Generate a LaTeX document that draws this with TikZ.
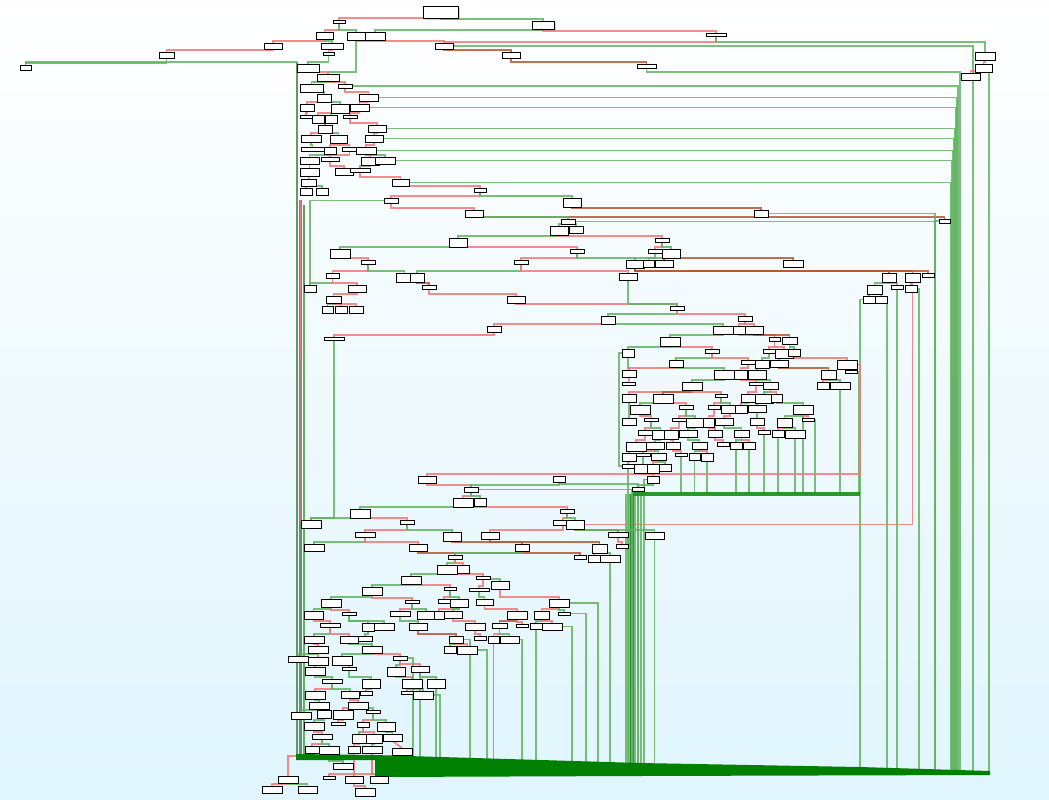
\documentclass[tikz,border=0pt]{standalone}
\usetikzlibrary{calc,shadows}
\definecolor{bgc}{RGB}{224,245,253}
\definecolor{ered}{RGB}{245,120,120}
\definecolor{egreen}{RGB}{100,180,100}
\definecolor{ebrown}{RGB}{184,88,52}
\definecolor{bandc}{RGB}{0,128,0}
\pgfdeclarelayer{bg}\pgfdeclarelayer{edges}\pgfsetlayers{bg,edges,main}
\tikzset{
 bx/.style={draw=black,line width=0.9pt,fill=white,inner sep=0pt,outer sep=0pt},
 redge/.style={draw=ered,line width=1.8pt,opacity=0.85},
 gedge/.style={draw=egreen,line width=1.8pt,opacity=0.85},
 bedge/.style={draw=ebrown,line width=1.8pt,opacity=0.85},
 trunk/.style={draw=egreen!75!black,line width=2.4pt,opacity=0.85},
 gthick/.style={draw=bandc!75!egreen,line width=3.2pt,opacity=0.9},
}
\newcommand\Bx[5]{\node[bx,minimum width={(#4-#2)*1pt},minimum height={(#5-#3)*1pt}] (#1) at ({(#2+#4)/2},{(#3+#5)/2}) {};}
\newcommand\Ed[3]{\draw[#1] (#2.south) |- ([yshift=2pt]#3.north) -- (#3.north);}
\newcommand\Ea[3]{\draw[#1] (#2.south) -- ++(0,3) -| (#3.north);}
\newcommand\Er[2]{\Ed{redge}{#1}{#2}}
\newcommand\Eg[2]{\Ed{gedge}{#1}{#2}}
\newcommand\Eb[2]{\Ed{bedge}{#1}{#2}}
\newcommand\Bk[2]{\draw[gedge] (#1.east) -| (#2);}
\newcommand\Bd[1]{\draw[gedge] (#1.south) -- (#1.south |- bandline);}
\newcommand\Bh[1]{\draw[gedge] (#1.south) -- (#1.south |- hband);}
\begin{document}
\begin{tikzpicture}[x=1pt,y=-1pt]
\useasboundingbox (0,0) rectangle (1049,800);
\begin{pgfonlayer}{bg}
\shade[top color=white,bottom color=bgc] (0,0) rectangle (1049,800);
\end{pgfonlayer}
% coordinates
\coordinate (bandline) at (0,772);
\coordinate (hband) at (0,494);
\foreach \x in {413,440,470,487,522,572,586,598,632,644,860,887,919,935,951,952,953,954,955,956,957,958,960,973,989} \coordinate (v\x) at (\x,772);
\foreach \x in {815,859} \coordinate (h\x) at (\x,494);
\coordinate (k1) at (297,62); \coordinate (k2) at (297,758);
\coordinate (k3) at (300.5,200); \coordinate (k4) at (300.5,758);
\coordinate (k5) at (304,205); \coordinate (k6) at (304,758);
\coordinate (ha) at (632,494); \coordinate (hb) at (860,494); \coordinate (va) at (632,772);
\coordinate (la) at (296,757); \coordinate (lb) at (376,757);
% top boxes
\node[bx,minimum width=35pt,minimum height=12pt,drop shadow={shadow xshift=2pt,shadow yshift=-2pt,opacity=0.35}] (t0) at (440.5,12) {};
\Bx{t1}{333}{20}{345}{23}
\node[bx,minimum width=22pt,minimum height=8pt,drop shadow={shadow xshift=2pt,shadow yshift=-2pt,opacity=0.35}] (t2) at (543,25) {};
\Bx{t3}{316}{32}{333}{39}
\Bx{t4}{347}{32}{365}{40}
\Bx{t5}{365}{32}{385}{40}
\Bx{t6}{264}{43}{282}{49}
\Bx{t7}{321}{43}{343}{49}
\Bx{t8}{323}{52}{334}{55}
\Bx{t9}{435}{43}{453}{49}
\Bx{t10}{502}{52}{520}{58}
\Bx{t11}{706}{33}{726}{36}
\Bx{t12}{159}{52}{174}{58}
\Bx{t13}{20}{65}{31}{70}
\Bx{t14}{637}{64}{656}{68}
\Bx{t15}{975}{52}{995}{60}
\Bx{t16}{975}{64}{992}{72}
\Bx{t17}{961}{73}{980}{80}
% column
\Bx{c1}{297}{64}{319}{72}
\Bx{c2}{317}{74}{339}{81}
\Bx{c3}{300}{84}{323}{92}
\Bx{c4}{338}{84}{352}{88}
\Bx{c5}{317}{94}{331}{102}
\Bx{c6}{359}{94}{378}{101}
\Bx{c7}{300}{104}{314}{111}
\Bx{c8}{331}{104}{349}{113}
\Bx{c9}{350}{104}{369}{111}
\Bx{c10}{300}{115}{312}{118}
\Bx{c11}{312}{115}{324}{123}
\Bx{c12}{325}{115}{337}{123}
\Bx{c13}{343}{115}{357}{118}
\Bx{c14}{318}{125}{332}{133}
\Bx{c15}{368}{125}{386}{132}
\Bx{c16}{301}{135}{321}{142}
\Bx{c17}{330}{135}{347}{143}
\Bx{c18}{365}{135}{383}{142}
\Bx{c19}{301}{147}{324}{151}
\Bx{c20}{324}{147}{336}{154}
\Bx{c21}{342}{147}{357}{151}
\Bx{c22}{356}{147}{376}{154}
\Bx{c23}{300}{157}{319}{164}
\Bx{c24}{321}{157}{339}{161}
\Bx{c25}{361}{157}{379}{165}
\Bx{c26}{375}{157}{395}{164}
\Bx{c27}{300}{168}{319}{176}
\Bx{c28}{335}{168}{353}{175}
\Bx{c29}{350}{168}{370}{172}
\Bx{c30}{301}{179}{316}{186}
\Bx{c31}{392}{179}{409}{186}
\Bx{c32}{300}{188}{312}{195}
\Bx{c33}{316}{188}{328}{195}
% middle
\Bx{m1}{474}{188}{486}{192}
\Bx{m2}{384}{198}{398}{203}
\Bx{m3}{563}{198}{581}{207}
\Bx{m4}{465}{210}{483}{217}
\Bx{m5}{754}{210}{768}{217}
\Bx{m6}{561}{219}{575}{224}
\Bx{m7}{939}{219}{950}{223}
\Bx{m8}{550}{226}{568}{235}
\Bx{m9}{569}{226}{583}{233}
\Bx{m10}{449}{238}{467}{247}
\Bx{m11}{655}{238}{669}{242}
\Bx{m12}{330}{249}{350}{258}
\Bx{m13}{570}{249}{584}{253}
\Bx{m14}{648}{249}{662}{253}
\Bx{m15}{662}{249}{680}{258}
\Bx{m16}{361}{260}{375}{264}
\Bx{m17}{514}{260}{528}{264}
\Bx{m18}{626}{260}{644}{268}
\Bx{m19}{643}{260}{654}{267}
\Bx{m20}{655}{260}{673}{267}
\Bx{m21}{783}{260}{803}{267}
\Bx{m22}{326}{273}{339}{278}
\Bx{m23}{396}{273}{413}{282}
\Bx{m24}{410}{273}{424}{282}
\Bx{m25}{619}{273}{637}{280}
\Bx{m26}{882}{273}{896}{282}
\Bx{m27}{905}{273}{920}{282}
\Bx{m28}{922}{273}{934}{277}
\Bx{m29}{304}{285}{316}{292}
\Bx{m30}{348}{285}{366}{292}
\Bx{m31}{422}{285}{436}{289}
\Bx{m32}{867}{285}{882}{294}
\Bx{m33}{891}{285}{903}{289}
\Bx{m34}{905}{285}{917}{292}
\Bx{m35}{326}{296}{341}{303}
\Bx{m36}{507}{296}{525}{303}
\Bx{m37}{863}{296}{875}{303}
\Bx{m38}{875}{296}{887}{303}
\Bx{m39}{322}{306}{333}{313}
\Bx{m40}{335}{306}{347}{313}
\Bx{m41}{349}{306}{363}{313}
\Bx{m42}{670}{306}{684}{310}
\Bx{m43}{601}{316}{615}{324}
\Bx{m44}{738}{316}{752}{321}
\Bx{m45}{487}{326}{501}{332}
\Bx{m46}{324}{337}{344}{340}
% right cluster
\Bx{r1}{713}{326}{733}{334}
\Bx{r2}{733}{326}{745}{334}
\Bx{r3}{745}{326}{763}{334}
\Bx{r4}{660}{337}{680}{346}
\Bx{r5}{769}{337}{780}{341}
\Bx{r6}{782}{337}{797}{344}
\Bx{r7}{622}{349}{634}{357}
\Bx{r8}{705}{349}{719}{353}
\Bx{r9}{763}{349}{775}{353}
\Bx{r10}{775}{349}{793}{358}
\Bx{r11}{788}{349}{800}{356}
\Bx{r12}{669}{360}{683}{367}
\Bx{r13}{741}{360}{755}{364}
\Bx{r14}{755}{360}{769}{368}
\Bx{r15}{770}{360}{788}{367}
\Bx{r16}{837}{360}{857}{369}
\Bx{r17}{622}{370}{636}{377}
\Bx{r18}{714}{370}{734}{379}
\Bx{r19}{734}{370}{747}{379}
\Bx{r20}{748}{370}{766}{379}
\Bx{r21}{821}{370}{836}{379}
\Bx{r22}{845}{370}{857}{373}
\Bx{r23}{622}{382}{635}{385}
\Bx{r24}{682}{382}{702}{390}
\Bx{r25}{749}{382}{763}{385}
\Bx{r26}{763}{382}{778}{389}
\Bx{r27}{817}{382}{829}{389}
\Bx{r28}{830}{382}{850}{389}
\Bx{r29}{622}{394}{636}{402}
\Bx{r30}{653}{394}{673}{403}
\Bx{r31}{715}{394}{727}{397}
\Bx{r32}{741}{394}{755}{402}
\Bx{r33}{755}{394}{773}{403}
\Bx{r34}{771}{394}{782}{402}
\Bx{r35}{630}{405}{650}{414}
\Bx{r36}{679}{405}{693}{409}
\Bx{r37}{708}{405}{720}{409}
\Bx{r38}{721}{405}{739}{413}
\Bx{r39}{735}{405}{747}{413}
\Bx{r40}{748}{405}{766}{412}
\Bx{r41}{793}{405}{813}{414}
\Bx{r42}{622}{418}{636}{425}
\Bx{r43}{644}{418}{658}{421}
\Bx{r44}{672}{418}{686}{421}
\Bx{r45}{686}{418}{704}{427}
\Bx{r46}{703}{418}{714}{427}
\Bx{r47}{715}{418}{733}{425}
\Bx{r48}{750}{418}{764}{425}
\Bx{r49}{777}{418}{792}{427}
\Bx{r50}{802}{418}{814}{421}
\Bx{r51}{638}{430}{652}{435}
\Bx{r52}{652}{430}{669}{439}
\Bx{r53}{664}{430}{678}{439}
\Bx{r54}{679}{430}{697}{437}
\Bx{r55}{708}{430}{722}{437}
\Bx{r56}{734}{430}{749}{437}
\Bx{r57}{758}{430}{770}{434}
\Bx{r58}{772}{430}{784}{437}
\Bx{r59}{785}{430}{805}{438}
\Bx{r60}{626}{442}{646}{451}
\Bx{r61}{646}{442}{664}{449}
\Bx{r62}{666}{442}{680}{449}
\Bx{r63}{692}{442}{707}{449}
\Bx{r64}{717}{442}{729}{446}
\Bx{r65}{730}{442}{742}{449}
\Bx{r66}{743}{442}{755}{449}
\Bx{r67}{622}{453}{636}{461}
\Bx{r68}{636}{453}{650}{456}
\Bx{r69}{651}{453}{666}{460}
\Bx{r70}{675}{453}{687}{456}
\Bx{r71}{689}{453}{700}{460}
\Bx{r72}{701}{453}{713}{461}
\Bx{r73}{622}{464}{634}{468}
\Bx{r74}{634}{464}{652}{473}
\Bx{r75}{647}{464}{659}{473}
\Bx{r76}{659}{464}{671}{471}
\Bx{r77}{647}{476}{659}{483}
\Bx{r78}{632}{487}{644}{491}
% bottom-left
\Bx{b1}{418}{476}{436}{483}
\Bx{b2}{553}{476}{565}{482}
\Bx{b3}{464}{487}{478}{492}
\Bx{b4}{453}{498}{473}{507}
\Bx{b5}{474}{498}{486}{506}
\Bx{b6}{350}{509}{370}{518}
\Bx{b7}{560}{509}{574}{513}
\Bx{b8}{400}{520}{414}{524}
\Bx{b9}{553}{520}{573}{525}
\Bx{b10}{566}{520}{584}{529}
\Bx{b11}{301}{520}{321}{528}
\Bx{b12}{355}{532}{375}{537}
\Bx{b13}{443}{532}{461}{541}
\Bx{b14}{481}{532}{499}{539}
\Bx{b15}{608}{532}{628}{537}
\Bx{b16}{645}{532}{664}{539}
\Bx{b17}{304}{544}{324}{551}
\Bx{b18}{409}{544}{427}{551}
\Bx{b19}{515}{544}{529}{551}
\Bx{b20}{592}{544}{607}{553}
\Bx{b21}{616}{544}{628}{548}
\Bx{b22}{574}{555}{586}{559}
\Bx{b23}{588}{555}{600}{562}
\Bx{b24}{600}{555}{620}{562}
\Bx{b25}{448}{555}{462}{559}
\Bx{b26}{437}{565}{457}{574}
\Bx{b27}{457}{565}{469}{573}
\Bx{b28}{401}{576}{421}{584}
\Bx{b29}{476}{576}{490}{579}
\Bx{b30}{491}{581}{509}{589}
\Bx{b31}{362}{587}{382}{595}
\Bx{b32}{444}{587}{456}{590}
\Bx{b33}{469}{588}{489}{591}
\Bx{b34}{321}{599}{341}{607}
\Bx{b35}{405}{600}{419}{603}
\Bx{b36}{438}{599}{450}{603}
\Bx{b37}{450}{599}{468}{607}
\Bx{b38}{476}{599}{493}{605}
\Bx{b39}{549}{599}{569}{607}
\Bx{b40}{304}{611}{323}{619}
\Bx{b41}{342}{612}{356}{615}
\Bx{b42}{390}{611}{410}{616}
\Bx{b43}{417}{611}{435}{619}
\Bx{b44}{434}{611}{444}{619}
\Bx{b45}{444}{611}{462}{618}
\Bx{b46}{507}{611}{527}{619}
\Bx{b47}{534}{611}{549}{619}
\Bx{b48}{558}{612}{570}{615}
\Bx{b49}{320}{623}{340}{627}
\Bx{b50}{362}{623}{374}{631}
\Bx{b51}{374}{623}{394}{630}
\Bx{b52}{409}{623}{427}{630}
\Bx{b53}{465}{623}{485}{630}
\Bx{b54}{492}{623}{507}{628}
\Bx{b55}{516}{624}{528}{627}
\Bx{b56}{530}{623}{542}{629}
\Bx{b57}{542}{623}{562}{630}
\Bx{b58}{304}{636}{324}{643}
\Bx{b59}{340}{636}{358}{643}
\Bx{b60}{358}{636}{372}{641}
\Bx{b61}{449}{636}{463}{643}
\Bx{b62}{474}{636}{486}{640}
\Bx{b63}{488}{636}{499}{643}
\Bx{b64}{500}{636}{519}{643}
\Bx{b65}{308}{646}{328}{653}
\Bx{b66}{362}{646}{382}{653}
\Bx{b67}{444}{646}{456}{653}
\Bx{b68}{457}{646}{477}{654}
\Bx{b69}{288}{656}{308}{662}
\Bx{b70}{308}{657}{328}{665}
\Bx{b71}{332}{656}{352}{665}
\Bx{b72}{393}{656}{407}{660}
\Bx{b73}{305}{667}{325}{675}
\Bx{b74}{342}{667}{356}{670}
\Bx{b75}{387}{667}{405}{676}
\Bx{b76}{411}{666}{429}{672}
\Bx{b77}{322}{679}{342}{683}
\Bx{b78}{362}{679}{380}{688}
\Bx{b79}{402}{679}{422}{688}
\Bx{b80}{427}{679}{445}{688}
\Bx{b81}{305}{691}{325}{699}
\Bx{b82}{341}{691}{359}{698}
\Bx{b83}{360}{691}{372}{695}
\Bx{b84}{401}{691}{413}{694}
\Bx{b85}{413}{691}{433}{699}
\Bx{b86}{309}{702}{329}{709}
\Bx{b87}{348}{702}{368}{709}
\Bx{b88}{291}{712}{311}{719}
\Bx{b89}{317}{710}{331}{718}
\Bx{b90}{333}{710}{353}{719}
\Bx{b91}{366}{710}{380}{713}
\Bx{b92}{304}{722}{324}{730}
\Bx{b93}{331}{722}{345}{725}
\Bx{b94}{357}{722}{369}{727}
\Bx{b95}{377}{722}{395}{731}
\Bx{b96}{312}{734}{332}{739}
\Bx{b97}{352}{734}{366}{743}
\Bx{b98}{366}{734}{382}{743}
\Bx{b99}{383}{734}{402}{741}
\Bx{b100}{305}{746}{319}{753}
\Bx{b101}{319}{746}{339}{754}
\Bx{b102}{348}{746}{360}{753}
\Bx{b103}{362}{746}{382}{753}
\Bx{b104}{392}{748}{412}{755}
\Bx{b105}{333}{763}{353}{769}
\Bx{b106}{323}{776}{335}{779}
\Bx{b107}{278}{776}{298}{783}
\Bx{b108}{345}{776}{363}{783}
\Bx{b109}{370}{776}{388}{783}
\Bx{b110}{262}{786}{282}{793}
\Bx{b111}{298}{786}{317}{793}
\Bx{b112}{355}{788}{375}{796}
\begin{pgfonlayer}{edges}
% trunk
\draw[trunk] (k1) -- (k2);
\draw[trunk] (k3) -- (k4);
\draw[trunk] (k5) -- (k6);
\draw[redge,line width=1pt] (k3) -- (b11.west);
\draw[gedge] (t13.north) |- (k1);
% top edges
\Er{t0}{t1} \Eg{t0}{t2} \Er{t1}{t3} \Eg{t1}{t4} \Eg{t2}{t5} \Er{t2}{t11}
\Er{t3}{t6} \Eg{t3}{t7} \Er{t7}{t8} \Er{t4}{t9} \Eb{t9}{t10}
\draw[redge] (t9.north) |- ([yshift=-6pt]t11.south) -- (t11.south);
\draw[gedge] (t11.south) -- ++(0,6) -| (t15.north);
\draw[gedge] (t9.east) -| (v973);
\Eb{t10}{t14} \Er{t6}{t12} \Eg{t12}{t13} \Er{t15}{t16} \Er{t16}{t17}
\draw[gedge] (t14.south) -- ++(0,4) -| (v960);
\draw[gedge] (t16.south -| v989) -- (v989);
% column edges
\Eg{t8}{c1} \Eg{t4}{c2} \Er{c1}{c2}
\Eg{c2}{c3} \Er{c2}{c4} \Eg{c3}{c5} \Er{c4}{c6} \Er{c5}{c7} \Eg{c5}{c8} \Er{c6}{c9}
\Er{c7}{c10} \Er{c8}{c11} \Eg{c8}{c12} \Er{c9}{c13} \Eg{c12}{c14} \Er{c13}{c15}
\Er{c14}{c16} \Eg{c14}{c17} \Er{c15}{c18} \Eg{c16}{c19} \Er{c17}{c20} \Er{c17}{c21}
\Er{c18}{c22} \Eg{c20}{c23} \Er{c21}{c24} \Er{c22}{c25} \Eg{c22}{c26} \Eg{c23}{c27}
\Er{c24}{c28} \Eg{c25}{c29} \Er{c27}{c30} \Er{c29}{c31} \Eg{c30}{c32} \Eg{c30}{c33}
% back edges to the right
\Bk{c4}{v958} \Bk{c6}{v957} \Bk{c9}{v956} \Bk{c15}{v955} \Bk{c18}{v954}
\Bk{c22}{v953} \Bk{c26}{v952} \Bk{c31}{v951}
% middle edges
\Er{c31}{m1} \Er{m1}{m2} \Eg{m1}{m3} \Er{m2}{m4} \Eb{m3}{m5} \Eb{m4}{m7} \Eg{m4}{m6}
\Eg{m6}{m8} \Eg{m6}{m9} \Eg{m8}{m10} \Er{m8}{m11} \Eg{m10}{m12} \Er{m10}{m13}
\Er{m11}{m14} \Eg{m11}{m15} \Er{m12}{m16} \Er{m13}{m17} \Eg{m13}{m18} \Eg{m14}{m18}
\Eg{m15}{m19} \Er{m15}{m20} \Eb{m20}{m21} \Er{m16}{m22} \Eg{m16}{m23} \Eg{m17}{m24}
\Er{m17}{m25} \Eb{m18}{m26} \Eb{m18}{m27} \Eb{m18}{m28} \Eg{m22}{m29} \Er{m22}{m30}
\Eb{m24}{m31} \Er{m31}{m36} \Er{m30}{m35} \Eg{m35}{m39} \Eg{m35}{m40} \Er{m35}{m41}
\Er{m36}{m42} \Eg{m25}{m42} \Eg{m42}{m43} \Er{m42}{m44} \Er{m43}{m45} \Er{m45}{m46}
\Eg{m26}{m32} \Er{m26}{m33} \Er{m27}{m34} \Eg{m32}{m37} \Er{m32}{m38}
\draw[gedge] (m2.west) -| (m29.north);
\draw[gedge] (m29.west) -| (k6);
\Bk{m6}{v935} \Bk{m5}{v935} \draw[gedge] (m7.west) -| (v935);
\Bk{m28}{v935} \Bk{m34}{v919} \Bd{m33} \Bk{m38}{v887} \draw[gedge] (m37.west) -| (v860);
\draw[redge] (m27.south) |- (b10.east);
% right cluster edges
\Eg{m43}{r1} \Er{m44}{r2} \Er{m44}{r3}
\Eg{r1}{r4} \Er{r2}{r5} \Eb{r3}{r6} \Eg{r4}{r7} \Er{r4}{r8} \Er{r5}{r9} \Eg{r6}{r11}
\Er{r6}{r16} \Er{r5}{r10} \Eg{r8}{r12} \Er{r8}{r13} \Eg{r9}{r14} \Er{r10}{r15}
\Eg{r7}{r17} \Er{r12}{r17} \Eg{r12}{r18} \Er{r13}{r19} \Eg{r14}{r20} \Eb{r15}{r21}
\Eg{r16}{r22} \Er{r17}{r23} \Eg{r18}{r24} \Er{r19}{r25} \Eg{r20}{r26} \Er{r21}{r27}
\Eg{r21}{r28} \Er{r24}{r29} \Eb{r24}{r30} \Er{r24}{r31} \Er{r25}{r32} \Eg{r26}{r33}
\Er{r26}{r34} \Eg{r30}{r35} \Er{r30}{r36} \Er{r31}{r37} \Eg{r31}{r38} \Er{r32}{r39}
\Eg{r33}{r40} \Eg{r34}{r41} \Er{r35}{r43} \Eg{r29}{r42} \Er{r36}{r44} \Eg{r36}{r45}
\Er{r37}{r46} \Er{r38}{r47} \Eg{r40}{r48} \Eg{r41}{r49} \Er{r41}{r50} \Er{r43}{r51}
\Eg{r43}{r52} \Er{r44}{r53} \Eg{r45}{r54} \Er{r46}{r55} \Eg{r47}{r56} \Er{r48}{r57}
\Er{r49}{r58} \Eg{r49}{r59} \Er{r51}{r60} \Eg{r52}{r61} \Er{r53}{r62} \Eg{r54}{r63}
\Er{r55}{r64} \Eg{r56}{r65} \Er{r56}{r66} \Eg{r60}{r67} \Er{r61}{r68} \Eg{r61}{r69}
\Er{r62}{r70} \Eg{r63}{r71} \Er{r63}{r72} \Er{r67}{r73} \Eg{r68}{r74} \Er{r69}{r75}
\Eg{r69}{r76} \Er{r74}{r77} \Eg{r77}{r78}
\draw[gedge] (r7.west) -- ++(-3,0) |- (r73.west);
\Bk{r22}{h859} \Bh{r28} \Bh{r59} \Bk{r50}{h815} \Bh{r41} \Bh{r58} \Bh{r57} \Bh{r66}
\Bh{r65} \Bh{r72} \Bh{r71} \Bh{r70}
\Bd{r73} \Bd{r78} \draw[gedge] (r77.west) -| (v644);
\foreach \x in {626,629,635,638,641} {
  \coordinate (p\x) at (\x,494); \coordinate (q\x) at (\x,772);
  \draw[gedge] (p\x) -- (q\x);
}
\draw[gthick] (ha) -- (hb);
\draw[gthick] (ha) -- (va);
\draw[redge] (r16.east) -- ++(3,0) |- ([yshift=2pt]b1.north) -- (b1.north);
% bottom-left edges
\Eg{m46}{b11}
\Er{b1}{b3} \Eg{b2}{b3} \Er{b3}{b4} \Eg{b3}{b5} \Eg{b4}{b6} \Er{b4}{b7} \Eg{b6}{b11}
\Bk{b3}{v632} \draw[gedge] (b2.south) -- ++(0,2) -| (r78.north);
\Er{b6}{b8} \Er{b7}{b9} \Eg{b7}{b10} \Er{b8}{b12} \Eg{b8}{b13} \Er{b9}{b14} \Eb{b10}{b15}
\Eg{b10}{b16} \Eg{b12}{b17} \Er{b12}{b18} \Eb{b13}{b19} \Eb{b14}{b20} \Er{b15}{b21}
\Eb{b18}{b22} \Eg{b19}{b25} \Er{b20}{b23} \Eg{b20}{b24} \Eg{b25}{b26} \Er{b25}{b27}
\Eg{b26}{b28} \Er{b26}{b29} \Eg{b28}{b31} \Er{b28}{b32} \Er{b29}{b33} \Eg{b29}{b30}
\Eg{b31}{b34} \Er{b31}{b35} \Er{b32}{b36} \Eg{b32}{b37} \Eg{b33}{b38} \Er{b30}{b39}
\Eg{b34}{b40} \Er{b34}{b41} \Er{b35}{b42} \Eg{b35}{b43} \Er{b37}{b44} \Eg{b37}{b45}
\Er{b38}{b46} \Er{b39}{b47} \Eg{b39}{b48} \Er{b40}{b49} \Eg{b41}{b50} \Eg{b41}{b51}
\Eg{b42}{b52} \Er{b45}{b53} \Eb{b46}{b54} \Er{b46}{b55} \Eg{b47}{b56} \Er{b47}{b57}
\Eg{b49}{b58} \Er{b49}{b59} \Eg{b50}{b60} \Eb{b52}{b61} \Er{b53}{b62} \Er{b54}{b63}
\Eg{b54}{b64} \Er{b58}{b65} \Eg{b59}{b66} \Eg{b61}{b67} \Er{b61}{b68} \Eg{b65}{b69}
\Er{b65}{b70} \Eg{b66}{b71} \Er{b66}{b72} \Eg{b70}{b73} \Er{b71}{b74} \Eg{b72}{b75}
\Er{b72}{b76} \Eg{b73}{b77} \Eg{b74}{b78} \Er{b75}{b79} \Eg{b76}{b80} \Er{b77}{b81}
\Eg{b77}{b82} \Er{b78}{b83} \Er{b79}{b84} \Eg{b79}{b85} \Eg{b81}{b86} \Er{b82}{b87}
\Eg{b86}{b88} \Er{b86}{b89} \Er{b87}{b90} \Eg{b87}{b91} \Eg{b89}{b92} \Er{b90}{b93}
\Er{b91}{b94} \Eg{b91}{b95} \Er{b92}{b96} \Eg{b94}{b97} \Er{b94}{b98} \Eg{b95}{b99}
\draw[redge] (b99.south) -- (b104.north);
\Er{b96}{b100} \Eg{b96}{b101} \Er{b97}{b102} \Eg{b98}{b103}
\Ea{redge}{b100}{b107} \Er{b107}{b110} \Eg{b107}{b111} \Eg{b101}{b105}
\Er{b102}{b106} \Eg{b103}{b109} \Er{b103}{b108} \Er{b108}{b112}
\Bk{b72}{v413} \Bd{b76} \Bd{b80} \Bk{b85}{v440} \Bk{b61}{v470} \Bk{b68}{v487}
\Bd{b63} \Bk{b64}{v522} \Bk{b57}{v572} \Bd{b56} \Bk{b48}{v586} \Bk{b39}{v598}
\Bd{b24} \Bk{b21}{v632} \Bd{b16}
% bands
\draw[gthick,line width=4pt] (la) -- (lb);
\fill[bandc] (296,754) -- (375,755) -- (640,763) -- (860,767) -- (990,771) -- (990,775)
  -- (640,776) -- (375,777) -- (375,760) -- (296,760) -- cycle;
\end{pgfonlayer}
\end{tikzpicture}
\end{document}
